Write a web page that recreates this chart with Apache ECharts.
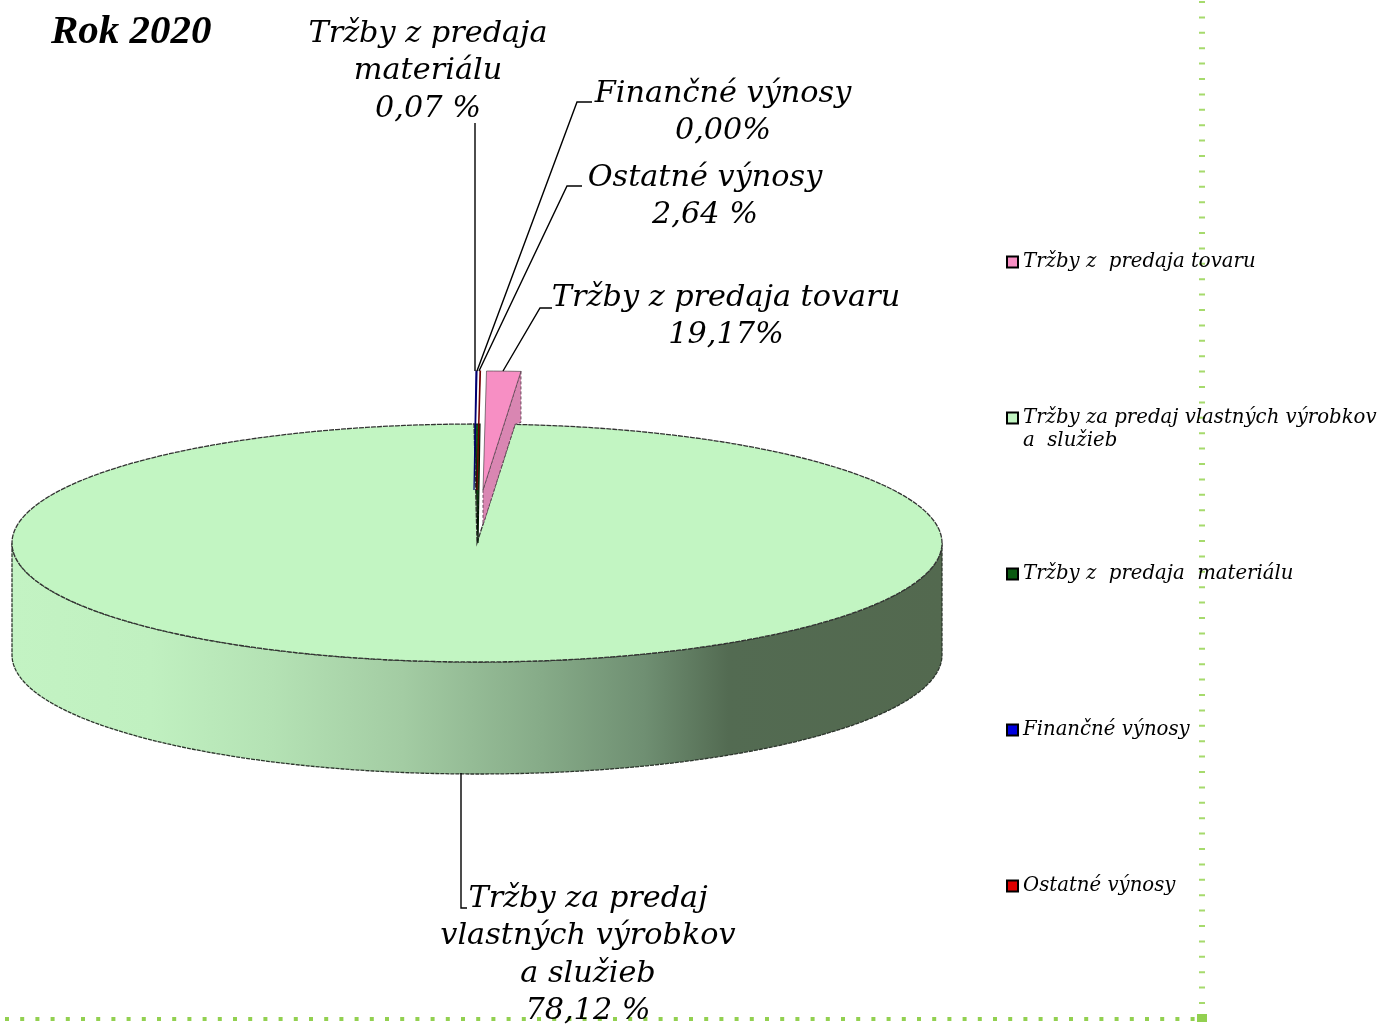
<!DOCTYPE html>
<html>
<head>
<meta charset="utf-8">
<style>
  html, body { margin: 0; background: #fff; }
  #main { width: 1378px; height: 1025px; }
</style>
<script src="https://cdn.jsdelivr.net/npm/echarts@6/dist/echarts.min.js"></script>
</head>
<body>
<div id="main"></div>
<script>
// legend order
const categories = ['Tržby z  predaja tovaru', 'Tržby za predaj vlastných výrobkov', 'Tržby z  predaja  materiálu', 'Finančné výnosy', 'Ostatné výnosy']
const labelNames = ['Tržby z predaja tovaru', 'Tržby za predaj\nvlastných výrobkov\na služieb', 'Tržby z predaja\nmateriálu', 'Finančné výnosy', 'Ostatné výnosy']
const labelPercents = ['19,17%', '78,12 %', '0,07 %', '0,00%', '2,64 %']
// the printed percents do not match the drawing, these are the shares as drawn
const drawnShares = [1.181, 98.597, 0.171, 0.034, 0.017]
const sliceColors = ['#f78fc4', '#c2f5c2', '#0b5a12', '#0000e0', '#e00000']
const sliceEdges = ['#333', '#333', '#001400', '#000070', '#700000']
// clockwise from the top of the pie
const drawOrder = [2, 3, 4, 0, 1]

const cx = 477, cy = 543, rx = 465, ry = 119, depth = 112
const startAngle = -3 / rx
const explodes = [[6, -53], [0, 0], [1, 0], [-3, -53], [0, -53]]
const SERIF = '"DejaVu Serif", serif'

function rimPoint (a, off, dy) {
  return [cx + off[0] + rx * Math.sin(a), cy + off[1] + (dy || 0) - ry * Math.cos(a)]
}
function arcPoints (a0, a1, off, dy) {
  let pts = []
  let n = Math.max(2, Math.ceil((a1 - a0) * 60))
  for (let i = 0; i <= n; i++) pts.push(rimPoint(a0 + (a1 - a0) * i / n, off, dy))
  return pts
}
function sliceAngles (idx) {
  let a = startAngle
  for (let i of drawOrder) {
    let sweep = drawnShares[i] / 100 * Math.PI * 2
    if (i === idx) return [a, a + sweep]
    a += sweep
  }
}

function renderSlice (params) {
  let idx = params.seriesIndex
  let [a0, a1] = sliceAngles(idx)
  let off = explodes[idx]
  let apex = [cx + off[0], cy + off[1]]
  let children = []
  if (idx === 1) {
    // front wall of the big slice, lower half of the ellipse
    let top = arcPoints(Math.PI / 2, Math.PI * 1.5, off)
    let bottom = arcPoints(Math.PI / 2, Math.PI * 1.5, off, depth).reverse()
    children.push({
      type: 'polygon',
      shape: {points: top.concat(bottom)},
      style: {
        fill: new echarts.graphic.LinearGradient(0, 0, 1, 0, [
          {offset: 0, color: '#c3f3c3'},
          {offset: 0.15, color: '#c0f0c0'},
          {offset: 0.28, color: '#b4e2b4'},
          {offset: 0.42, color: '#a3cca3'},
          {offset: 0.57, color: '#86ab88'},
          {offset: 0.68, color: '#6f8f72'},
          {offset: 0.77, color: '#536b52'},
          {offset: 1, color: '#53694f'}
        ]),
        stroke: '#2c352c',
        lineWidth: 1.3,
        lineDash: [4, 1]
      }
    })
  }
  if (idx === 0) {
    // cut face of the pulled out slice
    let r = rimPoint(a1, off)
    children.push({
      type: 'polygon',
      shape: {points: [r, [r[0], r[1] + 51], [r[0] - 6, r[1] + 53], [apex[0], apex[1] + 35], apex]},
      style: {fill: '#d986b2', stroke: '#6a4a5c', lineWidth: 1, lineDash: [3, 2]}
    })
  }
  if (idx === 4) {
    // dotted edge of the thin slice, runs on below its apex
    children.push({
      type: 'line',
      shape: {x1: apex[0] + 1, y1: cy - ry, x2: apex[0] + 1, y2: apex[1] + 27},
      style: {stroke: '#222', lineWidth: 1, lineDash: [2, 3]}
    })
  }
  children.push({
    type: 'polygon',
    shape: {points: [apex].concat(arcPoints(a0, a1, off))},
    style: {
      fill: sliceColors[idx],
      stroke: sliceEdges[idx],
      lineWidth: idx === 0 ? 0.6 : (idx === 1 ? 1.3 : 1.2),
      lineDash: idx === 1 ? [5, 1] : null
    }
  })
  return {type: 'group', children: children}
}

// where each label sits and how its leader runs
const labelBoxes = [[726, 279], [588, 880], [428, 15], [723, 75], [705, 159]]
const leaders = [
  [[552, 308], [540, 308], [503, 371]],
  [[467, 908], [461, 908], [461, 773]],
  [[475, 123], [475, 371]],
  [[592, 102], [577, 102], [477, 371]],
  [[582, 186], [567, 186], [479, 371]]
]

function renderLabel (params) {
  let i = params.dataIndex
  return {
    type: 'group',
    children: [{
      type: 'polyline',
      shape: {points: leaders[i]},
      style: {fill: null, stroke: '#000', lineWidth: 1.4}
    }, {
      type: 'text',
      style: {
        x: labelBoxes[i][0],
        y: labelBoxes[i][1],
        text: labelNames[i] + '\n' + labelPercents[i],
        align: 'center',
        verticalAlign: 'top',
        fontFamily: SERIF,
        fontStyle: 'italic',
        fontSize: 30.3,
        lineHeight: 37.5,
        fill: '#000'
      }
    }]
  }
}

let series = categories.map(function (name, i) {
  return {
    type: 'custom',
    name: name,
    coordinateSystem: 'none',
    renderItem: renderSlice,
    data: [[drawnShares[i]]],
    itemStyle: {color: sliceColors[i]},
    silent: true,
    z: [4, 2, 3, 5, 5][i]
  }
})
series.push({
  type: 'custom',
  name: 'labels',
  coordinateSystem: 'none',
  renderItem: renderLabel,
  data: labelNames.map(function (n, i) { return [i] }),
  silent: true,
  z: 6
})

let chart = echarts.init(document.getElementById('main'), null, {renderer: 'canvas'})
chart.setOption({
  animation: false,
  backgroundColor: '#fff',
  legend: {
    orient: 'vertical',
    left: 1006,
    top: 250,
    padding: 0,
    data: categories,
    selectedMode: false,
    icon: 'rect',
    itemWidth: 11,
    itemHeight: 11,
    itemGap: 132,
    itemStyle: {borderColor: '#000', borderWidth: 2},
    textStyle: {
      fontFamily: SERIF,
      fontStyle: 'italic',
      fontSize: 19.7,
      lineHeight: 24,
      color: '#000',
      padding: 0
    }
  },
  graphic: [
    {
      type: 'text',
      style: {x: 51, y: 12, text: 'Rok 2020', fontFamily: '"Liberation Serif", serif', fontStyle: 'italic', fontWeight: 'bold', fontSize: 41, fill: '#000'}
    },
    {
      type: 'text',
      style: {x: 1023, y: 431, text: 'a  služieb', fontFamily: SERIF, fontStyle: 'italic', fontSize: 19.7, fill: '#000'}
    },
    {
      type: 'line',
      z: -1,
      shape: {x1: 1202, y1: 1, x2: 1202, y2: 1014},
      style: {stroke: '#a6da6c', lineWidth: 6, lineDash: [2, 13.4]}
    },
    {
      type: 'line',
      z: -1,
      shape: {x1: 5, y1: 1019, x2: 1200, y2: 1019},
      style: {stroke: '#92d050', lineWidth: 4, lineDash: [4, 11.2]}
    },
    {
      type: 'rect',
      z: -1,
      shape: {x: 1197, y: 1014, width: 10, height: 8},
      style: {fill: '#92d050'}
    }
  ],
  series: series
})
</script>
</body>
</html>
